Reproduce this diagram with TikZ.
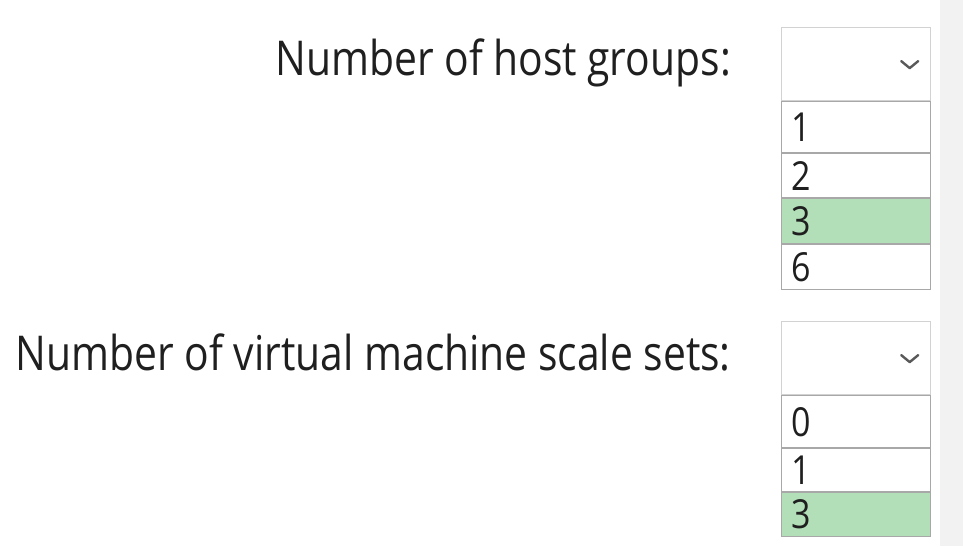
\documentclass[tikz,border=0pt]{standalone}
\usepackage{fontspec}
\setmainfont[FakeStretch=0.85]{Open Sans}
\usetikzlibrary{positioning}
\definecolor{pick}{HTML}{B2DFB8}
\definecolor{strip}{HTML}{F2F2F3}
\definecolor{frame}{HTML}{D2D2D2}
\definecolor{rule}{HTML}{A8A8A8}

\begin{document}
\begin{tikzpicture}[x=1pt,y=-1pt,
  question/.style={anchor=base east,inner sep=0pt,font=\fontsize{48}{50}\selectfont,text=black!88},
  header/.style={draw=frame,line width=1.2pt,anchor=north west,minimum width=149pt,minimum height=73pt,inner sep=0pt},
  choice/.style={draw=rule,line width=1pt,anchor=north west,minimum width=149pt,inner xsep=10pt,inner ysep=0pt,text width=129pt,align=left,font=\fontsize{40}{40}\selectfont,text=black!88},
  chosen/.style={choice,fill=pick},
  chevron/.style={draw=black!65,line width=2.4pt,line cap=round,line join=round}]
\useasboundingbox (0,0) rectangle (963,546);
\fill[strip] (940,0) rectangle (963,546);
% first question
\node[question] (lh) at (731,75) {Number of host groups:};
\node[header] (hh) at (781,27) {};
\draw[chevron] ([xshift=-30pt,yshift=3pt]hh.east) -- ++(8.5,7) -- ++(8.5,-7);
\node[choice,minimum height=51pt] (h1) at (hh.south west) {1};
\node[choice,minimum height=44pt] (h2) at (h1.south west) {2};
\node[chosen,minimum height=45pt] (h3) at (h2.south west) {3};
\node[choice,minimum height=45pt] (h6) at (h3.south west) {6};
% second question
\node[question] (lv) at (731,370) {Number of virtual machine scale sets:};
\node[header] (hv) at (781,321) {};
\draw[chevron] ([xshift=-30pt,yshift=3pt]hv.east) -- ++(8.5,7) -- ++(8.5,-7);
\node[choice,minimum height=52pt] (v0) at (hv.south west) {0};
\node[choice,minimum height=43pt] (v1) at (v0.south west) {1};
\node[chosen,minimum height=44pt] (v3) at (v1.south west) {3};
\end{tikzpicture}
\end{document}
